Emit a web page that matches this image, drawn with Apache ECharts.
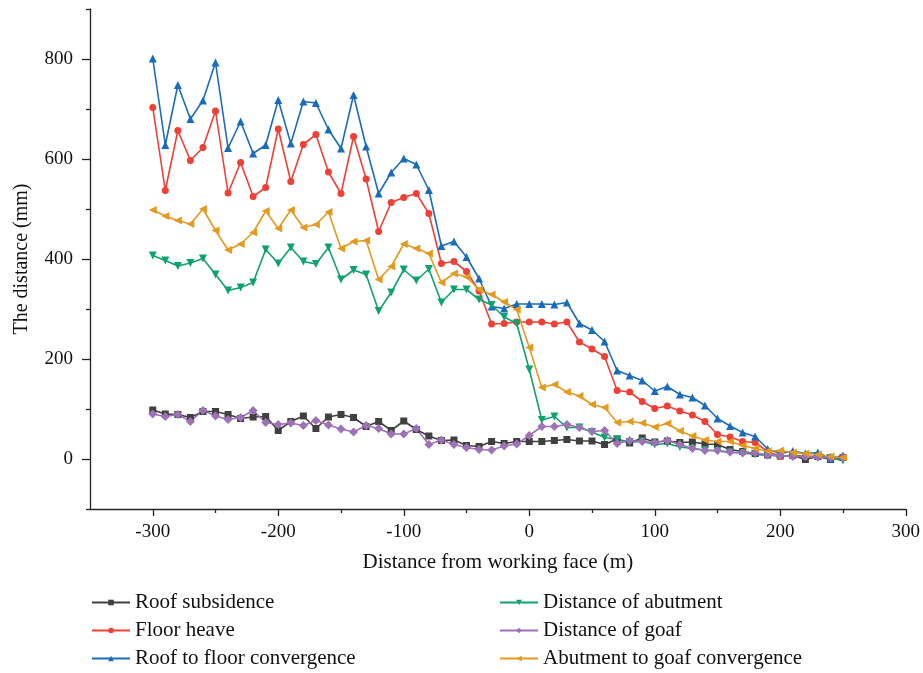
<!DOCTYPE html>
<html>
<head>
<meta charset="utf-8">
<script src="https://cdn.jsdelivr.net/npm/echarts@6/dist/echarts.min.js"></script>
<style>
  html, body { margin: 0; padding: 0; background: #fff; }
  #chart { width: 923px; height: 673px; }
</style>
</head>
<body>
<div id="chart"></div>
<script>
// distance from working face (m)
var xValues = [-300, -290, -280, -270, -260, -250, -240, -230, -220, -210,
  -200, -190, -180, -170, -160, -150, -140, -130, -120, -110,
  -100, -90, -80, -70, -60, -50, -40, -30, -20, -10,
  0, 10, 20, 30, 40, 50, 60, 70, 80, 90,
  100, 110, 120, 130, 140, 150, 160, 170, 180, 190,
  200, 210, 220, 230, 240, 250];

var roofSubsidence = [98, 90, 89, 83, 95, 95, 89, 81, 84, 85,
  57, 75, 86, 61, 84, 89, 83, 65, 75, 57,
  76, 59, 46, 37, 38, 27, 25, 35, 31, 35,
  35, 35, 37, 39, 36, 36, 29, 40, 32, 42,
  34, 36, 33, 34, 30, 29, 19, 15, 11, 8,
  6, 7, -1, 5, -1, 3];

var floorHeave = [703, 537, 657, 597, 623, 696, 532, 593, 525, 543,
  660, 555, 629, 649, 574, 531, 645, 560, 455, 513,
  523, 531, 491, 391, 395, 375, 336, 270, 271, 274,
  274, 274, 270, 274, 234, 220, 205, 137, 134, 115,
  101, 106, 96, 88, 75, 49, 44, 35, 33, 15,
  5, 8, 5, 6, 3, 4];

var roofToFloor = [801, 628, 748, 680, 717, 793, 622, 675, 611, 628,
  718, 631, 715, 712, 659, 621, 728, 625, 531, 573,
  601, 589, 538, 426, 435, 404, 361, 305, 301, 310,
  310, 310, 309, 313, 271, 258, 235, 177, 167, 157,
  136, 145, 129, 123, 107, 81, 66, 53, 45, 20,
  11, 16, 11, 13, 1, 7];

var abutment = [407, 397, 386, 392, 401, 369, 337, 343, 353, 419,
  391, 423, 395, 390, 423, 359, 378, 369, 296, 333,
  379, 357, 380, 313, 339, 339, 319, 308, 284, 271,
  179, 78, 85, 63, 63, 54, 43, 39, 34, 35,
  29, 31, 24, 21, 18, 16, 13, 12, 9, 7,
  7, 5, 5, 4, 2, -3];

var goaf = [90, 85, 89, 75, 97, 86, 79, 83, 97, 73,
  69, 72, 67, 77, 68, 60, 54, 67, 61, 50,
  50, 61, 29, 38, 29, 23, 19, 18, 26, 30,
  47, 65, 65, 69, 63, 55, 57, 31, 37, 35,
  33, 37, 29, 21, 17, 17, 14, 12, 12, 8,
  7, 5, 5, 4, 3, 2];

var abutmentToGoaf = [498, 486, 477, 470, 500, 457, 418, 430, 453, 496,
  461, 498, 463, 469, 494, 421, 435, 437, 359, 385,
  430, 421, 411, 353, 371, 364, 339, 329, 314, 299,
  223, 143, 149, 134, 126, 109, 103, 73, 75, 72,
  64, 71, 56, 46, 38, 35, 35, 27, 21, 16,
  17, 13, 11, 9, 5, 3];

var xMajor = [-300, -200, -100, 0, 100, 200, 300];
var xMinor = [-250, -150, -50, 50, 150, 250];
var yMajor = [0, 200, 400, 600, 800];
var yMinor = [-100, 100, 300, 500, 700, 900];

var seriesInfo = [
  { name: 'Roof subsidence', data: roofSubsidence, color: '#404040', symbol: 'rect', size: 7, rotate: 0 },
  { name: 'Floor heave', data: floorHeave, color: '#ee4035', symbol: 'circle', size: 7, rotate: 0 },
  { name: 'Roof to floor convergence', data: roofToFloor, color: '#1a6cba', symbol: 'triangle', size: 8, rotate: 0 },
  { name: 'Distance of abutment', data: abutment, color: '#0ea26f', symbol: 'triangle', size: 8, rotate: 180 },
  { name: 'Distance of goaf', data: goaf, color: '#9d72b6', symbol: 'diamond', size: 9, rotate: 0 },
  { name: 'Abutment to goaf convergence', data: abutmentToGoaf, color: '#e39a1d', symbol: 'triangle', size: 8, rotate: 90 }
];

var font = 'Liberation Serif';
var chart = echarts.init(document.getElementById('chart'));

function pairs(arr) {
  return xValues.map(function (x, i) { return [x, arr[i]]; });
}

var axisLine = { show: true, onZero: false, lineStyle: { color: '#222', width: 1.3 } };
var legendText = { fontFamily: font, fontSize: 21, lineHeight: 20, color: '#111' };

var option = {
  animation: false,
  backgroundColor: '#fff',
  grid: { left: 90, right: 16, top: 9, bottom: 164 },
  xAxis: [
    {
      type: 'value', min: -350, max: 300, position: 'bottom',
      name: 'Distance from working face (m)', nameLocation: 'middle', nameGap: 43,
      nameTextStyle: { fontFamily: font, fontSize: 21, color: '#111' },
      axisLine: axisLine,
      axisTick: { show: true, customValues: xMajor, length: 7, lineStyle: { color: '#222', width: 1.3 } },
      axisLabel: { customValues: xMajor, fontFamily: font, fontSize: 19, color: '#111', margin: 14 },
      splitLine: { show: false }
    },
    {
      type: 'value', min: -350, max: 300, position: 'bottom', offset: 0,
      axisLine: { show: false, onZero: false },
      axisTick: { show: true, customValues: xMinor, length: 4, lineStyle: { color: '#222', width: 1.3 } },
      axisLabel: { show: false },
      splitLine: { show: false }
    }
  ],
  yAxis: [
    {
      type: 'value', min: -100, max: 900, position: 'left',
      name: 'The distance (mm)', nameLocation: 'middle', nameGap: 58,
      nameTextStyle: { fontFamily: font, fontSize: 20, color: '#111' },
      axisLine: axisLine,
      axisTick: { show: true, customValues: yMajor, length: 8, lineStyle: { color: '#222', width: 1.3 } },
      axisLabel: { customValues: yMajor, fontFamily: font, fontSize: 19, color: '#111', margin: 17 },
      splitLine: { show: false }
    },
    {
      type: 'value', min: -100, max: 900, position: 'left', offset: 0,
      axisLine: { show: false, onZero: false },
      axisTick: { show: true, customValues: yMinor, length: 4, lineStyle: { color: '#222', width: 1.3 } },
      axisLabel: { show: false },
      splitLine: { show: false }
    }
  ],
  legend: [
    {
      orient: 'vertical', left: 86, top: 587, height: 86, itemWidth: 38, itemHeight: 7, itemGap: 7,
      textStyle: legendText,
      data: ['Roof subsidence', 'Floor heave', 'Roof to floor convergence']
    },
    {
      orient: 'vertical', left: 494, top: 587, height: 86, itemWidth: 38, itemHeight: 7, itemGap: 7,
      textStyle: legendText,
      data: ['Distance of abutment', 'Distance of goaf', 'Abutment to goaf convergence']
    }
  ],
  series: seriesInfo.map(function (s) {
    return {
      name: s.name,
      type: 'line',
      data: pairs(s.data),
      symbol: s.symbol,
      symbolSize: s.size,
      symbolRotate: s.rotate,
      showAllSymbol: true,
      lineStyle: { color: s.color, width: 1.6 },
      itemStyle: { color: s.color },
      emphasis: { disabled: true }
    };
  })
};

chart.setOption(option);
</script>
</body>
</html>
